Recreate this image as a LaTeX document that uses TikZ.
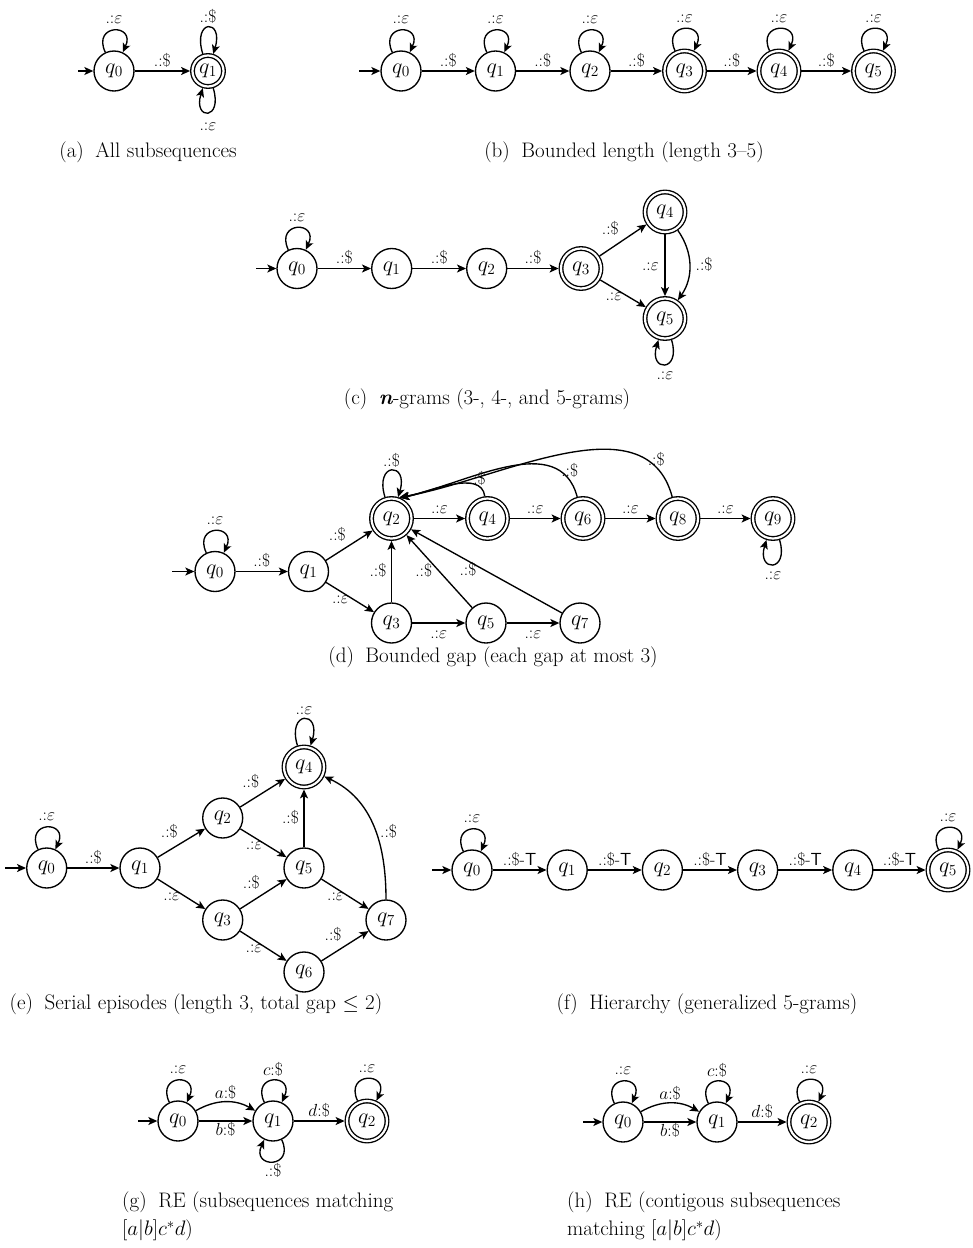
\documentclass[tikz,border=0pt]{standalone}
\usepackage{fix-cm}
\usepackage{fontspec}
\usetikzlibrary{arrows.meta,positioning}
\newcommand{\capsep}{\hspace{0.55em}}
\begin{document}
\begin{tikzpicture}[x=1pt,y=-1pt,
  st/.style={circle,draw,line width=1.35pt,minimum size=40pt,inner sep=0pt,font=\fontsize{22}{22}\selectfont},
  acc/.style={st,double,double distance=2.2pt,outer sep=2.4pt},
  lab/.style={font=\fontsize{17.5}{17.5}\selectfont,inner sep=1.5pt,text height=11pt,text depth=1.5pt},
  captext/.style={font=\fontsize{21}{28}\selectfont,inner sep=0pt,align=left},
  arr/.style={line width=1.35pt,-{Stealth[length=9pt,width=8pt,inset=2.2pt]}},
  la/.style={out=115,in=65,distance=32pt},
  laa/.style={out=107,in=73,distance=37pt},
  lb/.style={out=-65,in=-115,distance=32pt},
  lba/.style={out=-73,in=-107,distance=34pt},
]
\useasboundingbox (0,0) rectangle (973,1248);

% ---------- (a)
\node[st] (a0) at (114,71) {$q_0$};
\node[acc,minimum size=31pt] (a1) at (208,71) {$q_1$};
\coordinate (a0s) at (78,71);
\draw[arr] (a0s) -- (a0);
\draw[arr] (a0) -- node[lab,above=1pt]{.:\$} (a1);
\draw[arr] (a0) to[la] node[lab,above=3pt]{.:$\varepsilon$} (a0);
\draw[arr] (a1) to[laa] node[lab,above=1pt]{.:\$} (a1);
\draw[arr] (a1) to[lba] node[lab,below=5pt]{.:$\varepsilon$} (a1);
\node[captext] (capa) at (148,152) {(a)\capsep All subsequences};

% ---------- (b)
\node[st] (b0) at (401,71) {$q_0$};
\node[st] (b1) at (495.5,71) {$q_1$};
\node[st] (b2) at (590,71) {$q_2$};
\node[acc] (b3) at (684.5,71) {$q_3$};
\node[acc] (b4) at (779,71) {$q_4$};
\node[acc] (b5) at (873.5,71) {$q_5$};
\coordinate (b0s) at (359,71);
\draw[arr] (b0s) -- (b0);
\draw[arr] (b0) -- node[lab,above=1pt]{.:\$} (b1);
\draw[arr] (b1) -- node[lab,above=1pt]{.:\$} (b2);
\draw[arr] (b2) -- node[lab,above=1pt]{.:\$} (b3);
\draw[arr] (b3) -- node[lab,above=1pt]{.:\$} (b4);
\draw[arr] (b4) -- node[lab,above=1pt]{.:\$} (b5);
\draw[arr] (b0) to[la] node[lab,above=3pt]{.:$\varepsilon$} (b0);
\draw[arr] (b1) to[la] node[lab,above=3pt]{.:$\varepsilon$} (b1);
\draw[arr] (b2) to[la] node[lab,above=3pt]{.:$\varepsilon$} (b2);
\draw[arr] (b3) to[la] node[lab,above=3pt]{.:$\varepsilon$} (b3);
\draw[arr] (b4) to[la] node[lab,above=3pt]{.:$\varepsilon$} (b4);
\draw[arr] (b5) to[la] node[lab,above=3pt]{.:$\varepsilon$} (b5);
\node[captext] (capb) at (624,152) {(b)\capsep Bounded length (length 3--5)};

% ---------- (c)
\node[st] (c0) at (297,268.5) {$q_0$};
\node[st] (c1) at (391.7,268.5) {$q_1$};
\node[st] (c2) at (486.7,268.5) {$q_2$};
\node[acc] (c3) at (581,268.5) {$q_3$};
\node[acc] (c4) at (665,212) {$q_4$};
\node[acc] (c5) at (665,318.5) {$q_5$};
\coordinate (c0s) at (256,268.5);
\draw[arr] (c0s) -- (c0);
\draw[arr] (c0) to[la] node[lab,above=3pt]{.:$\varepsilon$} (c0);
\draw[arr] (c0) -- node[lab,above=1pt]{.:\$} (c1);
\draw[arr] (c1) -- node[lab,above=1pt]{.:\$} (c2);
\draw[arr] (c2) -- node[lab,above=1pt]{.:\$} (c3);
\draw[arr] (c3) -- node[lab,above left=3pt]{.:\$} (c4);
\draw[arr] (c3) -- node[lab,pos=0.3,below=-1pt]{.:$\varepsilon$} (c5);
\draw[arr] (c4) -- node[lab,left=4pt]{.:$\varepsilon$} (c5);
\draw[arr] (c4) to[bend left=35] node[lab,right=4pt]{.:\$} (c5);
\draw[arr] (c5) to[lba] node[lab,below=2pt]{.:$\varepsilon$} (c5);
\node[captext] (capc) at (487,399) {(c)\capsep \textit{\textbf{n}}-grams (3-, 4-, and 5-grams)};

% ---------- (d)
\node[st] (d0) at (215,571.5) {$q_0$};
\node[st] (d1) at (308.5,571.5) {$q_1$};
\node[acc] (d2) at (391.5,518.5) {$q_2$};
\node[st] (d3) at (391.5,623) {$q_3$};
\node[acc] (d4) at (487.5,518.5) {$q_4$};
\node[st] (d5) at (486,623) {$q_5$};
\node[acc] (d6) at (583,518.5) {$q_6$};
\node[st] (d7) at (580,623) {$q_7$};
\node[acc] (d8) at (678,518.5) {$q_8$};
\node[acc] (d9) at (773,518.5) {$q_9$};
\coordinate (d0s) at (172,571.5);
\draw[arr] (d0s) -- (d0);
\draw[arr] (d0) to[la] node[lab,above=3pt]{.:$\varepsilon$} (d0);
\draw[arr] (d0) -- node[lab,above=1pt]{.:\$} (d1);
\draw[arr] (d1) -- node[lab,above left=2pt]{.:\$} (d2);
\draw[arr] (d1) -- node[lab,pos=0.3,below=-1pt]{.:$\varepsilon$} (d3);
\draw[arr] (d3) -- node[lab,left=3pt]{.:\$} (d2);
\draw[arr] (d2) to[laa] node[lab,above=0pt]{.:\$} (d2);
\draw[arr] (d2) -- node[lab,above=1pt]{.:$\varepsilon$} (d4);
\draw[arr] (d4) -- node[lab,above=1pt]{.:$\varepsilon$} (d6);
\draw[arr] (d6) -- node[lab,above=1pt]{.:$\varepsilon$} (d8);
\draw[arr] (d8) -- node[lab,above=1pt]{.:$\varepsilon$} (d9);
\draw[arr] (d4) to[out=97,in=12,looseness=0.85] node[lab,pos=0.2,above=-3pt]{.:\$} (d2.66);
\draw[arr] (d6) to[out=105,in=12] node[lab,pos=0.1,above=0pt]{.:\$} (d2.68);
\draw[arr] (d8) to[out=105,in=10,looseness=0.95] node[lab,pos=0.13,above=-2pt]{.:\$} (d2.70);
\draw[arr] (d5) -- node[lab,pos=0.5,left=5pt]{.:\$} (d2);
\draw[arr] (d7) -- node[lab,pos=0.5,left=8pt]{.:\$} (d2);
\draw[arr] (d3) -- node[lab,below=2pt]{.:$\varepsilon$} (d5);
\draw[arr] (d5) -- node[lab,below=2pt]{.:$\varepsilon$} (d7);
\draw[arr] (d9) to[lba] node[lab,below=2pt]{.:$\varepsilon$} (d9);
\node[captext] (capd) at (493,657) {(d)\capsep Bounded gap (each gap at most 3)};

% ---------- (e)
\node[st] (e0) at (46.7,868) {$q_0$};
\node[st] (e1) at (140,868) {$q_1$};
\node[st] (e2) at (222.7,818) {$q_2$};
\node[st] (e3) at (222.7,920) {$q_3$};
\node[acc] (e4) at (304,767) {$q_4$};
\node[st] (e5) at (304,868) {$q_5$};
\node[st] (e6) at (304,972) {$q_6$};
\node[st] (e7) at (386,920) {$q_7$};
\coordinate (e0s) at (5,868);
\draw[arr] (e0s) -- (e0);
\draw[arr] (e0) to[la] node[lab,above=3pt]{.:$\varepsilon$} (e0);
\draw[arr] (e0) -- node[lab,above=1pt]{.:\$} (e1);
\draw[arr] (e1) -- node[lab,above left=2pt]{.:\$} (e2);
\draw[arr] (e1) -- node[lab,pos=0.3,below=-1pt]{.:$\varepsilon$} (e3);
\draw[arr] (e2) -- node[lab,above left=2pt]{.:\$} (e4);
\draw[arr] (e2) -- node[lab,pos=0.3,below=-1pt]{.:$\varepsilon$} (e5);
\draw[arr] (e3) -- node[lab,above left=2pt]{.:\$} (e5);
\draw[arr] (e3) -- node[lab,pos=0.3,below=-1pt]{.:$\varepsilon$} (e6);
\draw[arr] (e5) -- node[lab,left=3pt]{.:\$} (e4);
\draw[arr] (e5) -- node[lab,pos=0.3,below=-1pt]{.:$\varepsilon$} (e7);
\draw[arr] (e6) -- node[lab,above left=2pt]{.:\$} (e7);
\draw[arr] (e7) to[out=90,in=-25] node[lab,pos=0.45,right=2pt]{.:\$} (e4);
\draw[arr] (e4) to[laa] node[lab,above=1pt]{.:$\varepsilon$} (e4);
\node[captext] (cape) at (196,1004) {(e)\capsep Serial episodes (length 3, total gap $\leq$ 2)};

% ---------- (f)
\node[st] (f0) at (472,870) {$q_0$};
\node[st] (f1) at (567.2,870) {$q_1$};
\node[st] (f2) at (662.4,870) {$q_2$};
\node[st] (f3) at (757.6,870) {$q_3$};
\node[st] (f4) at (852.8,870) {$q_4$};
\node[acc] (f5) at (948,870) {$q_5$};
\coordinate (f0s) at (432,870);
\draw[arr] (f0s) -- (f0);
\draw[arr] (f0) to[la] node[lab,above=3pt]{.:$\varepsilon$} (f0);
\draw[arr] (f0) -- node[lab,above=1pt]{.:\$-\textsf{T}} (f1);
\draw[arr] (f1) -- node[lab,above=1pt]{.:\$-\textsf{T}} (f2);
\draw[arr] (f2) -- node[lab,above=1pt]{.:\$-\textsf{T}} (f3);
\draw[arr] (f3) -- node[lab,above=1pt]{.:\$-\textsf{T}} (f4);
\draw[arr] (f4) -- node[lab,above=1pt]{.:\$-\textsf{T}} (f5);
\draw[arr] (f5) to[la] node[lab,above=3pt]{.:$\varepsilon$} (f5);
\node[captext] (capf) at (707,1004) {(f)\capsep Hierarchy (generalized 5-grams)};

% ---------- (g)
\node[st] (g0) at (178,1121) {$q_0$};
\node[st] (g1) at (273,1121) {$q_1$};
\node[acc] (g2) at (367,1121) {$q_2$};
\coordinate (g0s) at (138,1121);
\draw[arr] (g0s) -- (g0);
\draw[arr] (g0) to[la] node[lab,above=3pt]{.:$\varepsilon$} (g0);
\draw[arr] (g0) to[bend left=30] node[lab,above=0pt]{$a$:\$} (g1);
\draw[arr] (g0) -- node[lab,below=1pt]{$b$:\$} (g1);
\draw[arr] (g1) to[la] node[lab,above=1pt]{$c$:\$} (g1);
\draw[arr] (g1) to[lb] node[lab,below=2pt]{.:\$} (g1);
\draw[arr] (g1) -- node[lab,above=1pt]{$d$:\$} (g2);
\draw[arr] (g2) to[la] node[lab,above=3pt]{.:$\varepsilon$} (g2);
\node[captext,anchor=north west] (capg) at (122,1192) {(g)\capsep RE (subsequences matching\\$[a|b]c^*d$)};

% ---------- (h)
\node[st] (h0) at (623,1122) {$q_0$};
\node[st] (h1) at (717,1122) {$q_1$};
\node[acc] (h2) at (809,1122) {$q_2$};
\coordinate (h0s) at (583,1122);
\draw[arr] (h0s) -- (h0);
\draw[arr] (h0) to[la] node[lab,above=3pt]{.:$\varepsilon$} (h0);
\draw[arr] (h0) to[bend left=30] node[lab,above=0pt]{$a$:\$} (h1);
\draw[arr] (h0) -- node[lab,below=1pt]{$b$:\$} (h1);
\draw[arr] (h1) to[la] node[lab,above=1pt]{$c$:\$} (h1);
\draw[arr] (h1) -- node[lab,above=1pt]{$d$:\$} (h2);
\draw[arr] (h2) to[la] node[lab,above=3pt]{.:$\varepsilon$} (h2);
\node[captext,anchor=north west] (caph) at (567,1192) {(h)\capsep RE (contigous subsequences\\matching $[a|b]c^*d$)};
\end{tikzpicture}
\end{document}
